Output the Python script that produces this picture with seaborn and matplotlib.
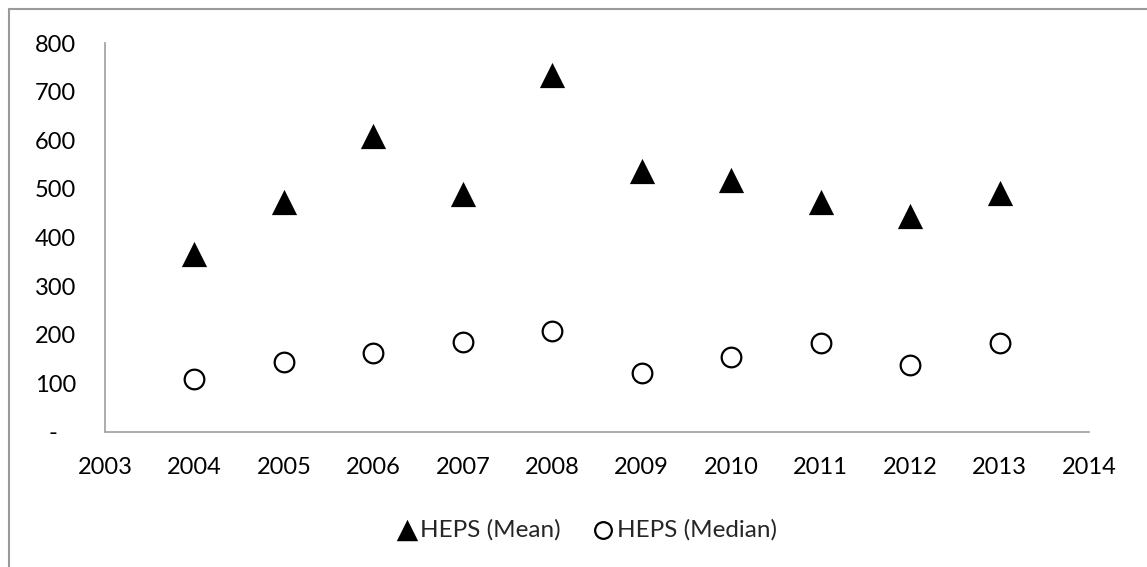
import numpy as np
import pandas as pd
import matplotlib
matplotlib.use("Agg")
import matplotlib.pyplot as plt
import seaborn as sns
from matplotlib.lines import Line2D

sns.set_style("white")
plt.rcParams['font.family'] = ['Lato', 'DejaVu Sans']

years = [2004, 2005, 2006, 2007, 2008, 2009, 2010, 2011, 2012, 2013]
heps_mean = [367, 474, 608, 489, 734, 537, 518, 473, 444, 492]
heps_median = [110, 143, 163, 185, 207, 121, 155, 183, 137, 184]
y_ticks = [0, 100, 200, 300, 400, 500, 600, 700, 800]
y_labels = ['-   ', '100', '200', '300', '400', '500', '600', '700', '800']
x_ticks = list(range(2003, 2015))

df = pd.DataFrame({'year': years, 'mean': heps_mean, 'median': heps_median})

fig = plt.figure(figsize=(11.47, 5.67), dpi=100)
ax = fig.add_axes([105/1147, 1 - 432/567, (1089 - 105)/1147, (432 - 43)/567])

sns.scatterplot(data=df, x='year', y='mean', marker='^', s=330, color='black',
                edgecolor='black', linewidth=0, label='HEPS (Mean)', ax=ax, zorder=3)
sns.scatterplot(data=df, x='year', y='median', marker='o', s=200, facecolor='white',
                edgecolor='black', linewidth=1.6, label='HEPS (Median)', ax=ax, zorder=3)

ax.set_xlim(2003, 2014)
ax.set_ylim(0, 800)
ax.set_xticks(x_ticks)
ax.set_xticklabels([str(x) for x in x_ticks])
ax.set_yticks(y_ticks)
ax.set_yticklabels(y_labels)
ax.set_xlabel('')
ax.set_ylabel('')

axis_color = '#a6a6a6'
for side in ['top', 'right']:
    ax.spines[side].set_visible(False)
for side in ['left', 'bottom']:
    ax.spines[side].set_color(axis_color)
    ax.spines[side].set_linewidth(1.3)
ax.tick_params(axis='both', which='major', direction='out', color=axis_color,
               width=1.3, labelsize=17, labelcolor='black')
ax.tick_params(axis='x', length=7, pad=11)
ax.tick_params(axis='y', length=7, pad=14)
ax.grid(False)

handles, labels = ax.get_legend_handles_labels()
ax.get_legend().remove()
fig.legend(handles, labels, loc='center', bbox_to_anchor=(585/1147, 1 - 530/567),
           ncol=2, frameon=False, fontsize=17.5, markerscale=0.85,
           handletextpad=0.0, columnspacing=1.2, handlelength=1.1)

# outer chart border (top and left visible)
fig.add_artist(Line2D([9/1147, 1], [1 - 9/567, 1 - 9/567], color='#9a9a9a', lw=1.5))
fig.add_artist(Line2D([9/1147, 9/1147], [1 - 9/567, 0], color='#9a9a9a', lw=1.5))

fig.savefig('out.png', dpi=100)
